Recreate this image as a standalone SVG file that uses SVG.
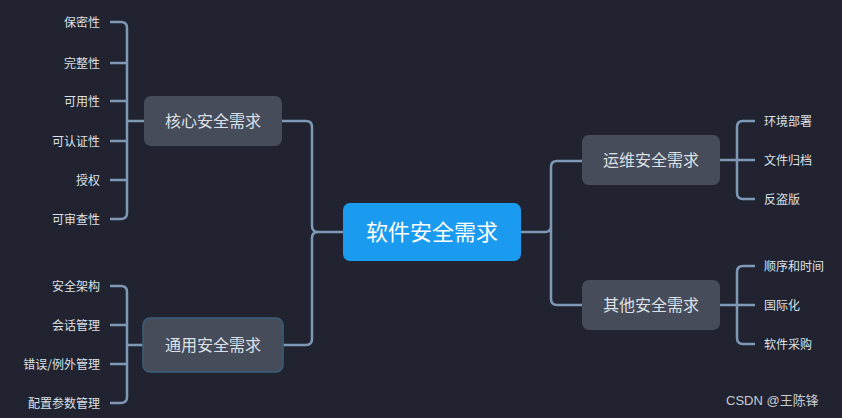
<svg xmlns="http://www.w3.org/2000/svg" width="842" height="418" viewBox="0 0 842 418">
<style>
.c{fill:none;stroke:#7e98b6;stroke-width:2.5}
.n{fill:#464c5a}
.t{font-family:"Noto Sans CJK SC",sans-serif;fill:#dde0e6}
.lf{font-size:12px;text-anchor:end}
.lr{font-size:12px}
.m{font-size:16px;text-anchor:middle}
</style>
<rect width="842" height="418" fill="#212430"/>
<g id="connectors">
<path class="c" d="M282,121H306q6,0 6,6V226q0,6 6,6H343"/>
<path class="c" d="M283,345H306q6,0 6,-6V238q0,-6 6,-6"/>
<path class="c" d="M521,232H545q6,0 6,-6V167q0,-6 6,-6H582M551,226V299q0,6 6,6H582"/>
<path class="c" d="M144,121H127M110,22H121q6,0 6,6V213q0,6 -6,6H110M110,63H127M110,101H127M110,141H127M110,180H127"/>
<path class="c" d="M143,345H127M110,286H121q6,0 6,6V397q0,6 -6,6H110M110,325H127M110,364H127"/>
<path class="c" d="M720,160H737M755,121H743q-6,0 -6,6V193q0,6 6,6H755M737,160H755"/>
<path class="c" d="M720,305H737M755,266H743q-6,0 -6,6V338q0,6 6,6H755M737,305H755"/>
</g>
<g id="root"><rect x="343" y="203" width="178" height="58" rx="7" fill="#1a9bf0"/><text class="t" x="432" y="240" font-size="22" text-anchor="middle" style="fill:#fff">软件安全需求</text></g>
<g id="core"><rect class="n" x="144" y="96" width="138" height="50" rx="7"/><text class="t m" x="213" y="127">核心安全需求</text></g>
<g id="general"><rect class="n" x="143" y="318" width="140" height="54" rx="7" stroke="#3b5d78" stroke-width="1.5"/><text class="t m" x="213" y="351">通用安全需求</text></g>
<g id="ops"><rect class="n" x="582" y="135" width="138" height="50" rx="7"/><text class="t m" x="651" y="166">运维安全需求</text></g>
<g id="other"><rect class="n" x="582" y="280" width="138" height="50" rx="7"/><text class="t m" x="651" y="311">其他安全需求</text></g>
<g id="leaves-core" class="t lf">
<text x="100" y="27">保密性</text><text x="100" y="68">完整性</text><text x="100" y="106">可用性</text><text x="100" y="146">可认证性</text><text x="100" y="185">授权</text><text x="100" y="224">可审查性</text>
</g>
<g id="leaves-general" class="t lf">
<text x="100" y="291">安全架构</text><text x="100" y="330">会话管理</text><text x="100" y="369">错误/例外管理</text><text x="100" y="408">配置参数管理</text>
</g>
<g id="leaves-ops" class="t lr">
<text x="764" y="126">环境部署</text><text x="764" y="165">文件归档</text><text x="764" y="204">反盗版</text>
</g>
<g id="leaves-other" class="t lr">
<text x="764" y="271">顺序和时间</text><text x="764" y="310">国际化</text><text x="764" y="349">软件采购</text>
</g>
<text x="726" y="405" font-family="Liberation Sans,'Noto Sans CJK SC',sans-serif" font-size="13" fill="#c8ccd4">CSDN @王陈锋</text>
</svg>
